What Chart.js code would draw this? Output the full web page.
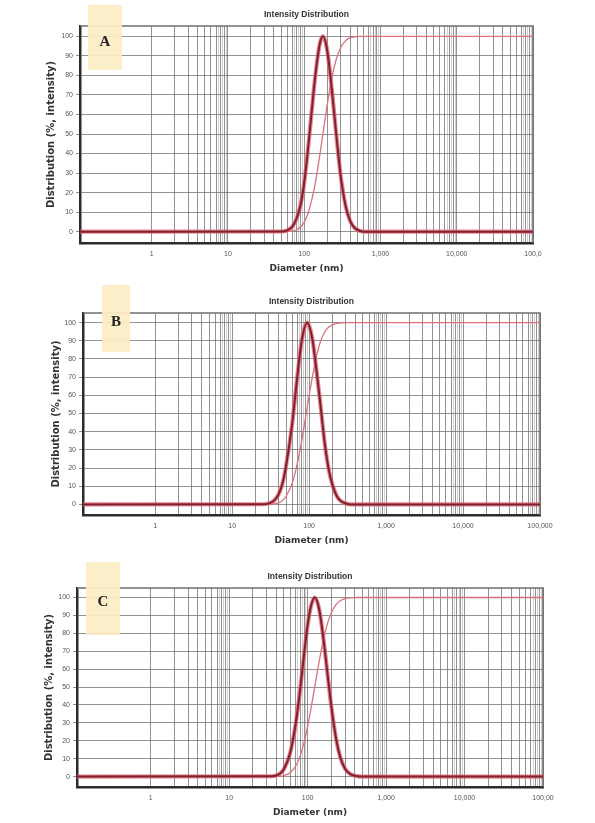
<!DOCTYPE html>
<html>
<head>
<meta charset="utf-8">
<script src="https://cdn.jsdelivr.net/npm/chart.js@4.4.1/dist/chart.umd.min.js"></script>
<style>
  body { margin: 0; background: #fff; width: 595px; height: 823px; position: relative; overflow: hidden; }
  canvas { position: absolute; left: 0; }
  .tag { position: absolute; background: rgba(252, 237, 196, 0.93); color: #222;
         font: bold 15px "Liberation Serif", "DejaVu Serif", serif; text-align: center; }
</style>
</head>
<body>
<canvas id="chartA"></canvas>
<canvas id="chartB"></canvas>
<canvas id="chartC"></canvas>
<div class="tag" style="left:88px;top:5px;width:34px;height:65px;line-height:72px;">A</div>
<div class="tag" style="left:102px;top:285px;width:28px;height:67px;line-height:72px;">B</div>
<div class="tag" style="left:86px;top:562px;width:34px;height:73px;line-height:78px;">C</div>
<script>
// tick values / labels
const decadeValues = [1, 10, 100, 1000, 10000, 100000];
const tickLabelsA = ["1", "10", "100", "1,000", "10,000", "100,0"];
const tickLabelsB = ["1", "10", "100", "1,000", "10,000", "100,000"];
const tickLabelsC = ["1", "10", "100", "1,000", "10,000", "100,00"];
const gridMantissas = [1, 2, 3, 4, 5, 6, 7, 8, 9];
const bandMantissas = [7.5, 8.5, 9.5];
const yTicks = [0, 10, 20, 30, 40, 50, 60, 70, 80, 90, 100];

// panel A
const sizesA = [0.115, 50, 60, 70, 80, 90, 100, 110, 125, 140, 160, 176, 200, 230, 260, 300, 350, 400, 460, 530, 620, 100000];
const intensityA = [0, 0.1, 0.7, 2.6, 7, 14, 25, 39, 61, 80, 96, 100, 93, 73, 52, 29, 13, 5.5, 1.9, 0.5, 0, 0];
const cumulativeA = [0, 0, 0.1, 0.3, 1.0, 2.4, 4.9, 8.4, 15.9, 25, 39, 50, 64.7, 78.5, 87.5, 94.2, 97.8, 99.2, 99.8, 100, 100, 100];

// panel B
const sizesB = [0.115, 25, 30, 35, 40, 45, 50, 60, 70, 80, 94, 110, 125, 140, 160, 180, 200, 230, 260, 300, 350, 100000];
const intensityB = [0, 0.1, 0.6, 2.1, 5.5, 11.5, 21, 44, 70, 90, 100, 91, 73, 55, 33, 19, 11, 4.4, 1.8, 0.5, 0, 0];
const cumulativeB = [0, 0, 0.1, 0.3, 0.9, 2.2, 4.4, 11.5, 22.5, 35, 53, 70, 82, 89.5, 95, 97.6, 98.8, 99.6, 99.9, 100, 100, 100];

// panel C
const sizesC = [0.115, 35, 40, 45, 50, 60, 70, 80, 90, 100, 110, 123, 140, 160, 180, 200, 230, 260, 300, 350, 420, 500, 100000];
const intensityC = [0, 0.2, 0.7, 1.9, 4.2, 13.3, 28.7, 48, 68, 84.5, 95, 100, 93.7, 76, 56.7, 39.6, 21.4, 11, 4.4, 1.4, 0.3, 0, 0];
const cumulativeC = [0, 0, 0.1, 0.2, 0.6, 2.2, 5.7, 11.3, 19, 28, 37.6, 50, 64, 77, 85.7, 91.3, 96, 98.2, 99.4, 99.8, 100, 100, 100];

const panels = [
  { id: "chartA", sizes: sizesA, intensity: intensityA, cumulative: cumulativeA, labels: tickLabelsA,
    left: 80, right: 533, top: 26, bottom: 243, yTitleX: 51 },
  { id: "chartB", sizes: sizesB, intensity: intensityB, cumulative: cumulativeB, labels: tickLabelsB,
    left: 83, right: 540, top: 313, bottom: 515, yTitleX: 56 },
  { id: "chartC", sizes: sizesC, intensity: intensityC, cumulative: cumulativeC, labels: tickLabelsC,
    left: 77, right: 543, top: 588, bottom: 787, yTitleX: 49 }
];

const font = "'Liberation Sans', Arial, sans-serif";
const titleFont = "'DejaVu Sans', Verdana, sans-serif";

const gridValues = [];
for (let e = 0; e < 5; e++) {
  gridMantissas.concat(bandMantissas).forEach(m => gridValues.push(m * Math.pow(10, e)));
}
gridValues.push(100000);
gridValues.sort((a, b) => a - b);

const framePlugin = {
  id: "frame",
  beforeDatasetsDraw(chart) {
    const a = chart.chartArea, ctx = chart.ctx;
    ctx.save();
    ctx.strokeStyle = "#6f6f6f";
    ctx.lineWidth = 1.6;
    ctx.beginPath();
    ctx.moveTo(a.left, a.top);
    ctx.lineTo(a.right, a.top);
    ctx.lineTo(a.right, a.bottom);
    ctx.stroke();
    ctx.restore();
  }
};

function isBand(v) {
  const m = v / Math.pow(10, Math.floor(Math.log10(v) + 1e-9));
  return bandMantissas.some(b => Math.abs(b - m) < 1e-6);
}

function makeChart(p) {
  const canvas = document.getElementById(p.id);
  const ctop = p.top - 17;
  canvas.style.top = ctop + "px";
  canvas.width = 595;
  canvas.height = p.bottom + 30 - ctop;
  const padLeft = p.yTitleX - 5;
  const intensityPts = p.sizes.map((d, i) => ({ x: d, y: p.intensity[i] }));

  new Chart(canvas, {
    type: "line",
    data: {
      datasets: [
        {
          label: "Intensity",
          data: intensityPts,
          borderColor: "#7c2230",
          borderWidth: 2,
          pointRadius: 0,
          cubicInterpolationMode: "monotone",
          order: 0
        },
        {
          label: "Intensity halo",
          data: intensityPts,
          borderColor: "rgba(226,92,104,0.75)",
          borderWidth: 4.2,
          pointRadius: 0,
          cubicInterpolationMode: "monotone",
          order: 1
        },
        {
          label: "Cumulative",
          data: p.sizes.map((d, i) => ({ x: d, y: p.cumulative[i] })),
          borderColor: "#d9727c",
          borderWidth: 1.3,
          pointRadius: 0,
          cubicInterpolationMode: "monotone",
          order: 2
        }
      ]
    },
    options: {
      responsive: false,
      animation: false,
      layout: { padding: { left: padLeft, right: 595 - p.right, top: 0, bottom: 0 } },
      plugins: {
        legend: { display: false },
        tooltip: { enabled: false },
        title: {
          display: true,
          text: "Intensity Distribution",
          fullSize: false,
          color: "#333",
          font: { family: font, size: 8.5, weight: "bold", lineHeight: 1 },
          padding: { top: 1, bottom: 7.5 }
        }
      },
      scales: {
        x: {
          type: "logarithmic",
          min: 0.115,
          max: 100000,
          afterBuildTicks: s => { s.ticks = gridValues.map(v => ({ value: v })); },
          afterFit: s => { s.height = 30; },
          ticks: {
            autoSkip: false,
            maxRotation: 0,
            padding: 7,
            color: "#555",
            font: { family: font, size: 7 },
            callback: v => {
              const i = decadeValues.indexOf(v);
              return i >= 0 ? p.labels[i] : "";
            }
          },
          grid: {
            drawTicks: false,
            color: ctx => (ctx.tick && isBand(ctx.tick.value)) ? "rgba(150,150,150,0.45)" : "rgba(110,110,110,0.75)",
            lineWidth: 1
          },
          border: { color: "#2b2b2b", width: 2.5 },
          title: {
            display: true,
            text: "Diameter (nm)",
            color: "#333",
            font: { family: titleFont, size: 9, weight: "bold", lineHeight: 1 },
            padding: 0
          }
        },
        y: {
          min: -5.8,
          max: 105.3,
          afterBuildTicks: s => { s.ticks = yTicks.map(v => ({ value: v })); },
          afterFit: s => { s.width = p.left - padLeft; },
          ticks: { padding: 3, color: "#555", font: { family: font, size: 7 } },
          grid: { color: "rgba(110,110,110,0.75)", lineWidth: 1, tickLength: 4 },
          border: { color: "#2b2b2b", width: 2.5 },
          title: {
            display: true,
            text: "Distribution (%, intensity)",
            color: "#333",
            font: { family: titleFont, size: 10, weight: "bold", lineHeight: 1 },
            padding: 0
          }
        }
      }
    },
    plugins: [framePlugin]
  });
}

panels.forEach(makeChart);
</script>
</body>
</html>
